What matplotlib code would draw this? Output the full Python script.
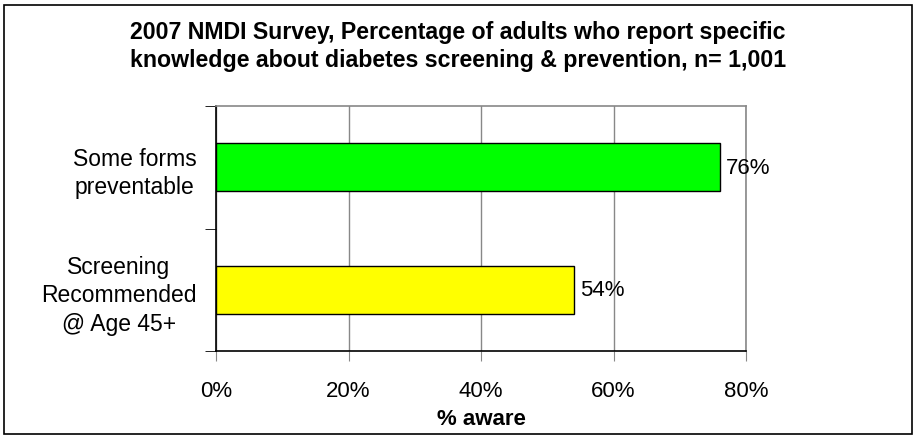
import matplotlib.pyplot as plt
from matplotlib.patches import Rectangle

plt.rcParams['font.family'] = ['Liberation Sans', 'DejaVu Sans']

categories = ["Screening\nRecommended\n@ Age 45+", "Some forms\npreventable"]
values = [54, 76]
colors = ["#ffff00", "#00ff00"]
xticks = [0, 20, 40, 60, 80]

fig = plt.figure(figsize=(9.16, 4.39), dpi=100)
ax = fig.add_axes([216 / 916, 1 - 352 / 439, 530 / 916, 245 / 439])

ypos = list(range(len(categories)))
bars = ax.barh(ypos, values, height=0.39, color=colors, edgecolor="black", linewidth=1, zorder=3)

for b, v in zip(bars, values):
    ax.text(b.get_width() + 1, b.get_y() + b.get_height() / 2, f"{v}%",
            va="center", ha="left", fontsize=16, zorder=4)

ax.set_xlim(0, 80)
ax.set_ylim(-0.5, len(categories) - 0.5)
ax.set_xticks(xticks)
ax.set_xticklabels([f"{t}%" for t in xticks], fontsize=16)
ax.tick_params(axis="x", direction="out", length=7, pad=14, color="#888888")
ax.xaxis.grid(True, color="#888888", linewidth=1)
ax.set_axisbelow(True)

ax.set_yticks(ypos)
ax.set_yticklabels(categories, fontsize=16.5, ha="right", multialignment="center",
                   linespacing=1.3)
ax.tick_params(axis="y", length=0, pad=14)
ax.set_yticks([-0.5, 0.5, 1.5], minor=True)
ax.tick_params(axis="y", which="minor", direction="out", length=8, color="black")

ax.set_xlabel("% aware", fontsize=16, fontweight="bold", labelpad=5)

for s in ["left", "bottom"]:
    ax.spines[s].set_color("black")
    ax.spines[s].set_linewidth(1.2)
for s in ["top", "right"]:
    ax.spines[s].set_color("#888888")
    ax.spines[s].set_linewidth(1.2)

fig.text(0.5, 1 - 32 / 439, "2007 NMDI Survey, Percentage of adults who report specific",
         ha="center", va="center", fontsize=16.7, fontweight="bold")
fig.text(0.5, 1 - 60 / 439, "knowledge about diabetes screening & prevention, n= 1,001",
         ha="center", va="center", fontsize=16.7, fontweight="bold")

fig.patches.append(Rectangle((4 / 916, 4 / 439), 908 / 916, 429 / 439, transform=fig.transFigure,
                             fill=False, edgecolor="black", linewidth=1.2))

fig.savefig("out.png", dpi=100)
